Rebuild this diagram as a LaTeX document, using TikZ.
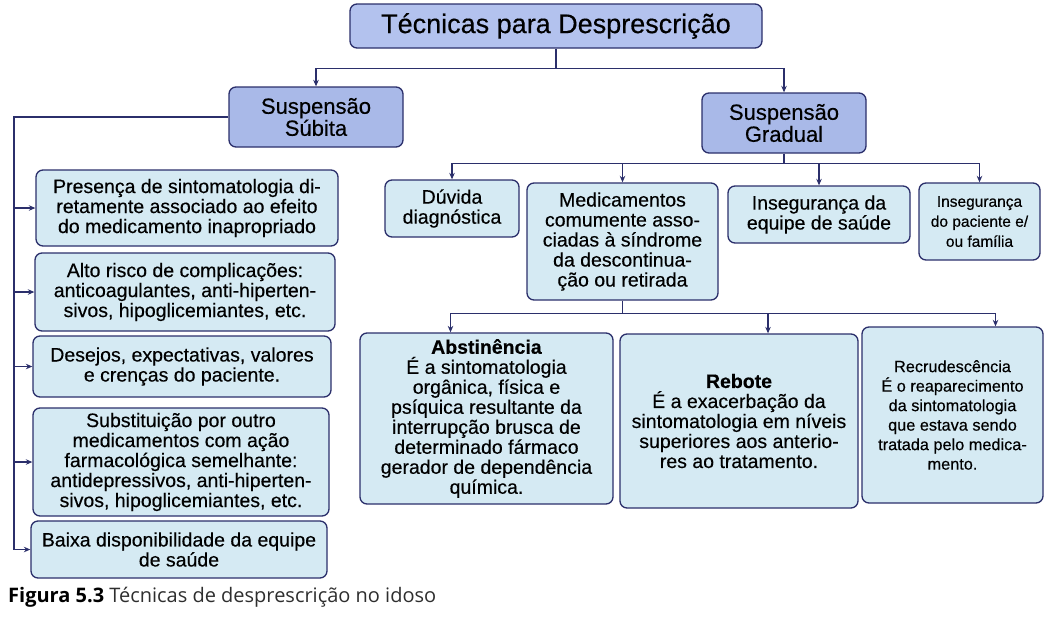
\documentclass[tikz,border=0pt]{standalone}
\usepackage{fontspec}
\setmainfont{Liberation Sans}[FakeBold=0.35]
\newfontfamily\capfont{Open Sans}
\usetikzlibrary{positioning,arrows.meta,calc}
\definecolor{navy}{HTML}{2B2F6B}
\definecolor{topblue}{HTML}{B3C2EE}
\definecolor{midblue}{HTML}{A9B9E8}
\definecolor{leafblue}{HTML}{D5EAF3}
\definecolor{capgray}{HTML}{2E2E2E}
\newcommand{\bodyfont}{\fontsize{19.5}{20}\selectfont}

\begin{document}
\begin{tikzpicture}[x=1pt,y=-1pt,>={Stealth[length=6.5pt,width=5.5pt]},
    box/.style={draw=navy,line width=1.3pt,rounded corners=7pt,align=center,inner sep=0pt,font=\bodyfont},
    head/.style={box,fill=midblue,font=\fontsize{22}{22}\selectfont},
    leaf/.style={box,fill=leafblue},
    dim/.style 2 args={minimum width=#1pt,minimum height=#2pt},
    link/.style={draw=navy,line width=1.3pt}]
    \useasboundingbox (0,0) rectangle (1050,622);

    % top levels
    \node[box,fill=topblue,dim={412}{44},font=\fontsize{27}{27}\selectfont] (title) at (556,26) {Técnicas para Desprescrição};
    \node[head,dim={174}{60}] (subita) at (316,117) {Suspensão\\Súbita};
    \node[head,dim={164}{60}] (gradual) at (784,123) {Suspensão\\Gradual};

    % left column
    \node[leaf,dim={302}{76}] (presenca) at (187,208) {Presença de sintomatologia di-\\retamente associado ao efeito\\do medicamento inapropriado};
    \node[leaf,dim={300}{78}] (risco) at (185,292) {Alto risco de complicações:\\anticoagulantes, anti-hiperten-\\sivos, hipoglicemiantes, etc.};
    \node[leaf,dim={298}{61}] (desejos) at (182,366.5) {Desejos, expectativas, valores\\e crenças do paciente.};
    \node[leaf,dim={296}{108}] (subst) at (181,462) {Substituição por outro\\medicamentos com ação\\farmacológica semelhante:\\antidepressivos, anti-hiperten-\\sivos, hipoglicemiantes, etc.};
    \node[leaf,dim={296}{57}] (baixa) at (179,549.5) {Baixa disponibilidade da equipe\\de saúde};

    % gradual row
    \node[leaf,dim={134}{57}] (duvida) at (452,208.5) {Dúvida\\diagnóstica};
    \node[leaf,dim={191}{117}] (medic) at (622.5,241.5) {Medicamentos\\comumente asso-\\ciadas à síndrome\\da descontinua-\\ção ou retirada};
    \node[leaf,dim={182}{57}] (equipe) at (819,214.5) {Insegurança da\\equipe de saúde};
    \node[leaf,dim={121}{77},font=\fontsize{15.5}{20}\selectfont] (paciente) at (979.5,221.5) {Insegurança\\do paciente e/\\ou família};

    % bottom row
    \node[leaf,dim={253}{171}] (abst) at (486.5,418.5) {\textbf{Abstinência}\\É a sintomatologia\\orgânica, física e\\psíquica resultante da\\interrupção brusca de\\determinado fármaco\\gerador de dependência\\química.};
    \node[leaf,dim={238}{174}] (rebote) at (739,421) {\textbf{Rebote}\\É a exacerbação da\\sintomatologia em níveis\\superiores aos anterio-\\res ao tratamento.};
    \node[leaf,dim={181}{176},font=\fontsize{16.3}{19.5}\selectfont] (recru) at (952.5,415) {Recrudescência\\É o reaparecimento\\da sintomatologia\\que estava sendo\\tratada pelo medica-\\mento.};

    \node[anchor=west,font=\capfont\fontsize{20}{20}\selectfont,text=capgray,inner sep=0pt] (caption) at (8,597) {\textcolor{black}{\textbf{Figura 5.3}} Técnicas de desprescrição no idoso};

    % connectors
    \draw[link] (title.south) -- ++(0,20) coordinate (tj);
    \draw[link,->] (tj) -| (subita.north);
    \draw[link,->] (tj) -| (gradual.north);

    \coordinate (rail) at (14,117);
    \draw[link] (subita.west) -- (rail) -- (rail |- baixa.west);
    \foreach \n in {presenca,risco,desejos,subst,baixa}
        \draw[link,->] (rail |- \n.west) -- (\n.west);

    \draw[link] (gradual.south) -- ++(0,10) coordinate (gj);
    \foreach \n in {duvida,medic,equipe,paciente}
        \draw[link,->] (gj) -| (\n.north);

    \draw[link] (medic.south) -- ++(0,13) coordinate (mj);
    \draw[link,->] (mj) -| ([xshift=-36pt]abst.north);
    \draw[link,->] (mj) -| ([xshift=29pt]rebote.north);
    \draw[link,->] (mj) -| ([xshift=43pt]recru.north);
\end{tikzpicture}
\end{document}
